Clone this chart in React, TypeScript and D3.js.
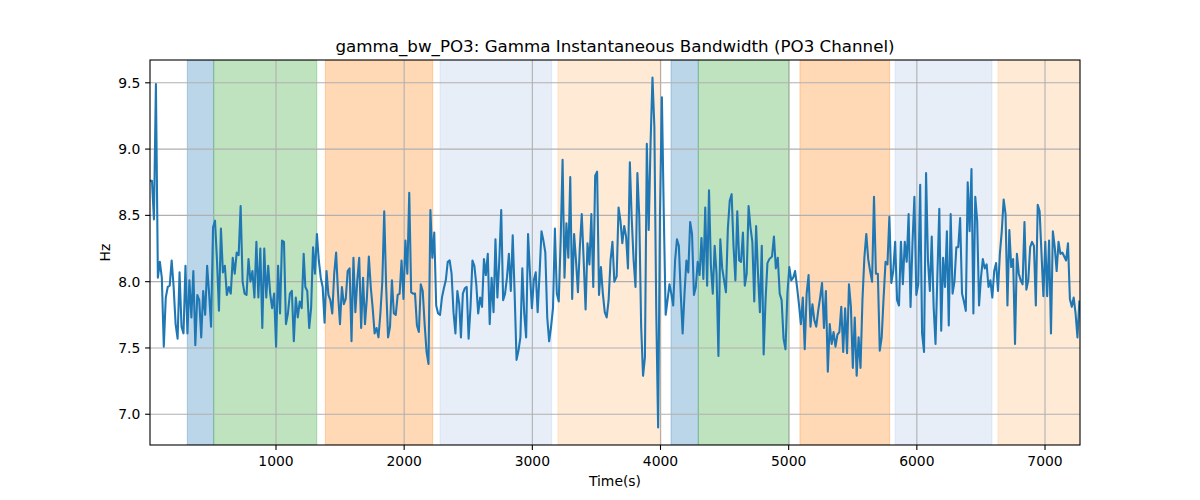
import React, { useEffect } from 'react';
import * as d3 from 'd3';

// gamma bandwidth (Hz), read in six stretches of the recording
const bw1 = [
  8.76, 8.76, 8.47, 9.49, 8.03, 8.15, 8.03, 7.51, 7.88, 7.96, 7.97, 8.16, 7.96, 7.68, 7.57, 8.07, 7.66, 7.61, 8.12, 7.61,
  8.01, 7.73, 8.08, 7.52, 7.90, 7.86, 7.58, 7.93, 7.75, 8.12, 7.91, 7.66, 8.41, 8.46, 8.16, 7.78, 8.40, 8.07, 8.12, 7.90,
  7.96, 7.91, 8.18, 8.06, 8.22, 8.20, 8.57, 8.00, 7.91, 7.90, 8.17, 8.00, 8.08, 7.88, 8.30, 7.88, 8.25, 7.65, 8.25, 7.88,
  8.12, 7.91, 7.80, 7.91, 7.51, 8.12, 7.76, 8.31, 8.30, 7.68, 7.76, 7.91, 7.93, 7.55, 7.88, 7.73, 7.85, 7.80, 8.21,
];
const bw2 = [
  7.96, 7.93, 7.65, 7.80, 8.26, 8.06, 8.36, 8.16, 8.03, 7.96, 7.69, 8.08, 7.90, 7.86, 7.76, 8.06, 8.22, 7.91, 7.68, 7.96,
  7.83, 7.87, 8.08, 8.10, 7.55, 8.18, 7.77, 8.01, 8.18, 7.65, 8.03, 7.68, 7.88, 8.19, 7.96, 7.80, 7.61, 7.65, 7.58, 7.76,
  8.00, 8.53, 7.96, 7.58, 7.66, 8.01, 7.76, 7.75, 7.90, 7.91, 8.16, 7.87, 8.31, 8.06, 8.67, 7.92, 7.91, 7.91, 7.67, 7.62,
  7.98, 7.93, 7.68, 7.47, 7.38, 8.54, 8.18, 8.37, 7.82, 7.76, 7.75, 7.88, 7.95, 8.01, 8.15, 8.16, 8.06, 7.77, 7.61, 7.93, 7.83,
];
const bw3 = [
  7.58, 7.91, 7.95, 7.96, 7.57, 7.81, 8.16, 8.12, 7.98, 7.76, 7.88, 7.81, 8.17, 8.05, 8.21, 7.68, 8.03, 7.77, 8.32, 7.88,
  8.16, 8.54, 7.86, 7.91, 8.03, 8.21, 7.93, 8.35, 7.91, 7.41, 7.48, 7.58, 8.10, 7.76, 7.58, 8.36, 8.06, 7.80, 8.01, 8.07,
  7.77, 8.06, 8.38, 8.31, 8.22, 7.73, 7.55, 7.66, 7.80, 8.40, 7.91, 7.85, 8.31, 8.92, 8.03, 8.44, 8.18, 8.79, 7.87, 8.36,
  8.16, 7.92, 8.26, 8.51, 8.16, 7.79, 8.29, 8.13, 8.51, 7.96, 8.80, 8.83, 7.90, 8.11, 7.91, 7.77, 7.73, 7.86, 8.16, 8.30, 8.00,
];
const bw4 = [
  8.04, 8.56, 8.46, 8.29, 8.42, 8.34, 8.10, 8.90, 8.47, 8.16, 7.96, 8.82, 8.49, 7.66, 7.29, 7.43, 9.04, 8.39, 9.05, 9.54,
  9.17, 7.78, 6.90, 8.53, 9.39, 8.51, 7.75, 7.86, 7.98, 7.91, 7.82, 8.16, 8.32, 8.27, 7.91, 7.61, 7.91, 8.16, 8.07, 8.45,
  8.36, 7.90, 7.96, 8.15, 8.05, 8.33, 8.02, 8.56, 7.97, 8.69, 8.12, 7.91, 8.27, 8.06, 7.44, 8.32, 8.10, 8.01, 7.92, 8.40,
  8.61, 8.66, 8.27, 8.01, 8.53, 8.16, 8.15, 8.37, 7.97, 8.06, 8.57, 8.41, 8.30, 7.85, 8.42, 8.06, 7.77, 8.27, 7.45, 7.86, 8.14, 8.17,
];
const bw5 = [
  8.19, 8.34, 8.10, 8.18, 7.91, 7.86, 7.57, 7.49, 7.91, 8.11, 8.01, 8.03, 8.08, 7.96, 7.83, 7.68, 7.88, 7.49, 7.91, 8.05,
  7.66, 7.83, 7.71, 7.66, 7.78, 7.88, 7.99, 7.65, 7.93, 7.32, 7.68, 7.53, 7.62, 7.51, 7.60, 7.62, 7.81, 7.47, 7.80, 7.46,
  7.98, 7.81, 7.35, 7.73, 7.29, 7.58, 7.35, 7.86, 8.18, 8.36, 8.17, 8.08, 8.00, 8.64, 8.06, 8.06, 7.48, 7.58, 7.88, 8.15,
  8.13, 8.49, 7.99, 8.08, 8.30, 7.86, 7.82, 8.30, 7.98, 8.30, 8.15, 8.51, 7.81, 8.29, 8.64, 7.90, 7.98, 8.73, 7.61, 7.47,
];
const bw6 = [
  8.82, 8.16, 7.93, 8.34, 7.81, 7.53, 8.06, 8.55, 7.63, 8.18, 7.96, 8.38, 7.67, 8.51, 7.91, 8.00, 8.26, 8.26, 8.48, 7.91,
  7.85, 7.78, 8.75, 8.38, 8.85, 7.76, 8.64, 8.46, 7.82, 8.03, 8.17, 8.10, 8.13, 7.96, 8.01, 7.88, 8.08, 8.14, 7.93, 8.21,
  8.38, 8.62, 8.51, 7.82, 8.39, 8.11, 8.17, 7.53, 8.21, 8.06, 8.01, 7.98, 8.45, 7.94, 8.01, 8.26, 8.30, 8.27, 7.82, 8.58,
  8.53, 8.21, 7.89, 8.30, 7.89, 8.31, 7.61, 8.38, 8.26, 8.08, 8.30, 8.21, 8.22, 8.19, 8.16, 8.29, 7.87, 7.81, 7.88, 7.76, 7.58, 7.85,
];

// first and last time stamp (s) of each stretch above
const segFirst = [17, 1229, 2443, 3658, 4870, 6072];
const segLast = [1216, 2430, 3640, 4849, 6056, 7268];

// shaded phases
const spanStart = [308, 514, 1385, 2280, 3200, 4082, 4295, 5088, 5830, 6633];
const spanEnd = [514, 1318, 2223, 3151, 4005, 4295, 5005, 5788, 6586, 7400];
const spanColor = ['#1f77b4', '#2ca02c', '#ff7f0e', '#aec7e8', '#ffbb78', '#1f77b4', '#2ca02c', '#ff7f0e', '#aec7e8', '#ffbb78'];

const xTicks = [1000, 2000, 3000, 4000, 5000, 6000, 7000];
const yTicks = [7.0, 7.5, 8.0, 8.5, 9.0, 9.5];

const W = 1200;
const H = 500;
const margin = { left: 150, right: 120, top: 60, bottom: 55 };
const font = 'DejaVu Sans, sans-serif';

export default function App() {
  useEffect(() => {
    document.body.style.margin = '0';
  }, []);

  // pair every value with its time stamp, spread evenly inside its stretch
  const points: [number, number][] = [];
  [bw1, bw2, bw3, bw4, bw5, bw6].forEach((seg, s) => {
    const step = (segLast[s] - segFirst[s]) / (seg.length - 1);
    seg.forEach((v, i) => points.push([segFirst[s] + i * step, v]));
  });

  const x = d3.scaleLinear().domain([segFirst[0], 7273]).range([margin.left, W - margin.right]);
  const [lo, hi] = d3.extent(points, (p) => p[1]) as [number, number];
  const pad = (hi - lo) * 0.05;
  const y = d3.scaleLinear().domain([lo - pad, hi + pad]).range([H - margin.bottom, margin.top]);

  const line = d3
    .line<[number, number]>()
    .x((d) => x(d[0]))
    .y((d) => y(d[1]));

  const x0 = margin.left;
  const x1 = W - margin.right;
  const y0 = H - margin.bottom;
  const y1 = margin.top;

  return (
    <svg width={W} height={H} style={{ display: 'block', background: '#fff' }} fontFamily={font}>
      <defs>
        <clipPath id="plot">
          <rect x={x0} y={y1} width={x1 - x0} height={y0 - y1} />
        </clipPath>
      </defs>
      <g clipPath="url(#plot)">
        {spanStart.map((s, i) => (
          <rect
            key={i}
            x={x(s)}
            y={y1}
            width={x(spanEnd[i]) - x(s)}
            height={y0 - y1}
            fill={spanColor[i]}
            fillOpacity={0.3}
            stroke={spanColor[i]}
            strokeOpacity={0.3}
            strokeWidth={1}
          />
        ))}
      </g>
      {/* grid */}
      {xTicks.map((t) => (
        <line key={'gx' + t} x1={x(t)} x2={x(t)} y1={y1} y2={y0} stroke="#b0b0b0" strokeWidth={1.1} />
      ))}
      {yTicks.map((t) => (
        <line key={'gy' + t} x1={x0} x2={x1} y1={y(t)} y2={y(t)} stroke="#b0b0b0" strokeWidth={1.1} />
      ))}
      <g clipPath="url(#plot)">
        <path d={line(points) ?? ''} fill="none" stroke="#1f77b4" strokeWidth={2.08} strokeLinejoin="round" strokeLinecap="square" />
      </g>
      <rect x={x0} y={y1} width={x1 - x0} height={y0 - y1} fill="none" stroke="#000" strokeWidth={1.1} />
      {/* x axis */}
      {xTicks.map((t) => (
        <g key={'tx' + t}>
          <line x1={x(t)} x2={x(t)} y1={y0} y2={y0 + 4.9} stroke="#000" strokeWidth={1.1} />
          <text x={x(t)} y={y0 + 21} textAnchor="middle" fontSize={13.9} fill="#000">
            {t}
          </text>
        </g>
      ))}
      {/* y axis */}
      {yTicks.map((t) => (
        <g key={'ty' + t}>
          <line x1={x0 - 4.9} x2={x0} y1={y(t)} y2={y(t)} stroke="#000" strokeWidth={1.1} />
          <text x={x0 - 9.7} y={y(t)} dy="0.35em" textAnchor="end" fontSize={13.9} fill="#000">
            {t.toFixed(1)}
          </text>
        </g>
      ))}
      <text x={(x0 + x1) / 2} y={486} textAnchor="middle" fontSize={13.9} fill="#000">
        Time(s)
      </text>
      <text transform={`translate(110, ${(y0 + y1) / 2}) rotate(-90)`} textAnchor="middle" fontSize={13.9} fill="#000">
        Hz
      </text>
      <text x={(x0 + x1) / 2} y={52} textAnchor="middle" fontSize={16.7} fill="#000">
        gamma_bw_PO3: Gamma Instantaneous Bandwidth (PO3 Channel)
      </text>
    </svg>
  );
}
